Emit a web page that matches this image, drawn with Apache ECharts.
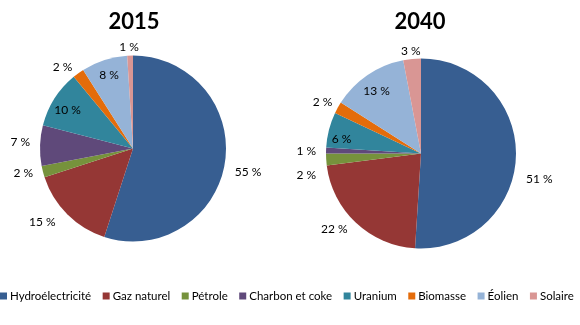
<!DOCTYPE html>
<html><head><meta charset="utf-8">
<script src="https://cdn.jsdelivr.net/npm/echarts@6/dist/echarts.min.js"></script>
<style>html,body{margin:0;padding:0;background:#fff}#c{width:580px;height:325px}</style>
</head><body><div id="c"></div>
<script>
var categories = ['Hydroélectricité','Gaz naturel','Pétrole','Charbon et coke','Uranium','Biomasse','Éolien','Solaire'];
var values2015 = [55, 15, 2, 7, 10, 2, 8, 1];
var values2040 = [51, 22, 2, 1, 6, 2, 13, 3];
var years = ['2015', '2040'];
var colors = ['#375E91','#953735','#76923C','#5F497A','#31859C','#E46C0A','#95B3D7','#D99694'];
var inside2015 = ['Uranium','Éolien'];
var inside2040 = ['Uranium','Éolien'];
var FONT = 'Lato';

// small label nudges to mimic the original placement
var nudge2015 = [[0,8],[-3,4],[0,0],[0,-3],[0,3],[2,-2],[0,0],[14,-3]];
var nudge2040 = [[0,22],[0,3],[0,15],[0,1],[-3,5],[4,-3],[0,3],[14,-3]];

function mainSeries(vals, center, r) {
  return {
    type: 'pie', center: center, radius: [0, r], startAngle: 90, clockwise: true,
    avoidLabelOverlap: false, silent: true,
    label: {show: false}, labelLine: {show: false},
    itemStyle: {borderWidth: 0},
    data: categories.map(function(c, i){ return {name: c, value: vals[i], itemStyle: {color: colors[i]}}; })
  };
}
function labelSeries(vals, center, r, inside, nudge) {
  return {
    type: 'pie', center: center, radius: [Math.round(r*0.6), r], startAngle: 90, clockwise: true,
    avoidLabelOverlap: false, silent: true, legendHoverLink: false,
    itemStyle: {color: 'rgba(0,0,0,0)', borderWidth: 0},
    labelLine: {show: false, length: 5, length2: 0},
    label: {fontFamily: FONT, fontSize: 12, color: '#000', formatter: '{c} %'},
    labelLayout: function(p){ var n = nudge[p.dataIndex]; return {dx: n[0], dy: n[1], hideOverlap: false}; },
    data: categories.map(function(c, i){
      var ins = inside.indexOf(c) >= 0;
      return {name: c, value: vals[i], label: {position: ins ? 'inside' : 'outside'}};
    })
  };
}
var chart = echarts.init(document.getElementById('c'));
chart.setOption({
  animation: false,
  color: colors,
  title: [
    {text: years[0], left: 129, top: 6, textAlign: 'center', textStyle: {fontFamily: FONT, fontSize: 22, fontWeight: 'bold', color: '#000'}},
    {text: years[1], left: 415, top: 6, textAlign: 'center', textStyle: {fontFamily: FONT, fontSize: 22, fontWeight: 'bold', color: '#000'}}
  ],
  legend: {
    top: 290, left: 0, width: 580, padding: 0, icon: 'rect', itemWidth: 7, itemHeight: 7, itemGap: 11.5,
    textStyle: {fontFamily: FONT, fontSize: 11.5, color: '#000', padding: [0,0,0,-2]},
    data: categories
  },
  series: [
    mainSeries(values2015, [133, 148.5], 93),
    mainSeries(values2040, [421, 153.5], 95),
    labelSeries(values2015, [133, 148.5], 93, inside2015, nudge2015),
    labelSeries(values2040, [421, 153.5], 95, inside2040, nudge2040)
  ]
});
</script></body></html>
